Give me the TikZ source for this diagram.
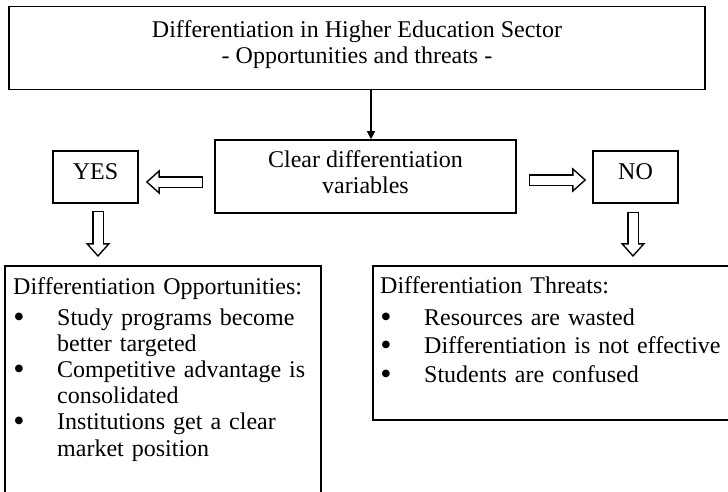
\documentclass[tikz,border=0pt]{standalone}
\usepackage{fontspec}
\setmainfont{Liberation Serif}
\newfontfamily\symfont{DejaVu Sans}
\usetikzlibrary{positioning, arrows.meta}

% bullet with its hanging indent, the indent alone, and a strut that lifts a label
\newcommand{\bul}{\makebox[44pt][l]{\hspace{1.5pt}\raisebox{6pt}{\symfont\fontsize{10}{10}\selectfont ●}}}
\newcommand{\ind}{\hspace*{44pt}}
\newcommand{\lift}[1]{\rule[-#1]{0pt}{#1}}

\tikzset{
    box/.style={draw, line width=1.6pt, inner sep=0pt},
    txt/.style={inner sep=0pt, font=\fontsize{24}{26}\selectfont},
    listtxt/.style={inner sep=0pt, anchor=base west, text width=400pt, align=left},
    thinarrow/.style={line width=1.2pt, -{Triangle[length=8pt, width=8pt]}},
    hollow/.style={line width=12pt, -{Triangle[length=14pt, width=25pt, line width=0pt]},
        postaction={draw=white, line width=9pt, shorten <=1.5pt, shorten >=2.3pt,
            -{Triangle[length=10.2pt, width=18.2pt, line width=0pt]}}}
}

\begin{document}
\begin{tikzpicture}[x=1pt, y=-1pt]
    \useasboundingbox (0,0) rectangle (728,492);

    % Heading
    \node[box, minimum width=696pt, minimum height=83pt] (title) at (357,48) {};
    \node[txt, align=center] (titletext) at (357,45) 
        {Differentiation in Higher Education Sector\\- Opportunities and threats -};

    % Decision and answers
    \node[box, txt, minimum width=301pt, minimum height=73pt, align=center] (crit) 
        at (365.5,176.5) {Clear differentiation\\variables\lift{8pt}};
    \node[box, txt, minimum width=85pt, minimum height=52pt] (yes) at (95.5,177) {YES\lift{10pt}};
    \node[box, txt, minimum width=85pt, minimum height=52pt] (no) at (635.5,177) {NO\lift{10pt}};

    % Result panels
    \node[box, anchor=north west, minimum width=316pt, minimum height=250pt] (opp) at (4,265) {};
    \node[box, anchor=north west, minimum width=370pt, minimum height=154pt] (threat) at (372,265) {};

    \node[listtxt, font=\fontsize{24}{26.2}\selectfont] (opptext) at (13,294) {%
        Differentiation Opportunities:\\[4.8pt]
        \bul Study programs become\\
        \ind better targeted\\
        \bul Competitive advantage is\\
        \ind consolidated\\
        \bul Institutions get a clear\\
        \ind market position};
    \node[listtxt, font=\fontsize{24}{28.5}\selectfont] (threattext) at (380,293) {%
        Differentiation Threats:\\[3.5pt]
        \bul Resources are wasted\\
        \bul Differentiation is not effective\\
        \bul Students are confused};

    % Connections
    \draw[thinarrow] ([xshift=5.5pt]crit.north |- title.south) -- ([xshift=5.5pt]crit.north);
    \draw[hollow] ([shift={(-11pt,-5.5pt)}]crit.west) -- ([shift={(7pt,-5.5pt)}]crit.west -| yes.east);
    \draw[hollow] ([shift={(12pt,-3.5pt)}]crit.east) -- ([shift={(-6pt,-3.5pt)}]crit.east -| no.west);
    \draw[hollow] ([shift={(2.5pt,-7pt)}]yes.south) -- ([shift={(2.5pt,8pt)}]yes.south |- opp.north);
    \draw[hollow] ([shift={(-2.5pt,-8pt)}]no.south) -- ([shift={(-2.5pt,8pt)}]no.south |- threat.north);
\end{tikzpicture}
\end{document}
